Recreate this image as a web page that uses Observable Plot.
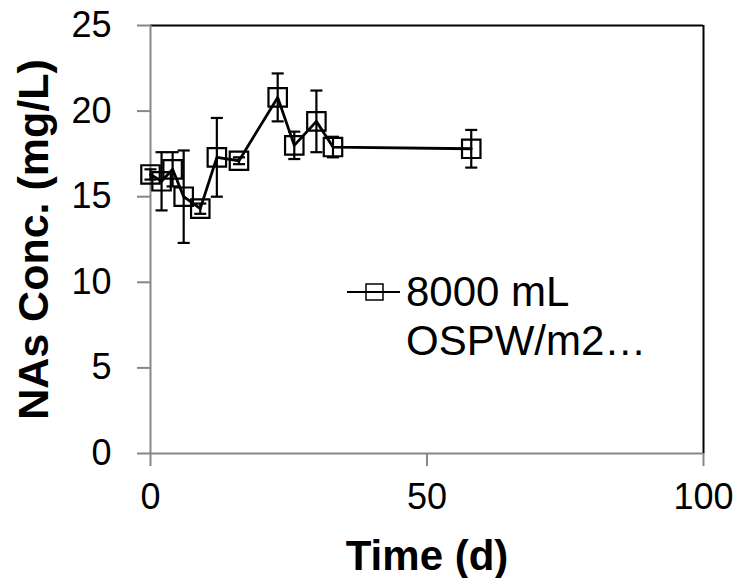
<!DOCTYPE html>
<html>
<head>
<meta charset="utf-8">
<script src="https://cdn.jsdelivr.net/npm/d3@7"></script>
<script src="https://cdn.jsdelivr.net/npm/@observablehq/plot@0.6"></script>
<style>
  html, body { margin: 0; padding: 0; background: #fff; }
  #chart { width: 735px; height: 578px; }
</style>
</head>
<body>
<div id="chart"></div>
<script>
// Data
const days   = [0, 2, 4, 6, 9, 12, 16, 23, 26, 30, 33, 58];
const conc   = [16.3, 15.9, 16.6, 15.0, 14.3, 17.3, 17.1, 20.8, 18.0, 19.4, 17.9, 17.8];
const errors = [0.3, 1.7, 1.0, 2.7, 0.3, 2.3, 0.2, 1.4, 0.8, 1.8, 0.6, 1.1];
const xTicks = [0, 50, 100];
const yTicks = [0, 5, 10, 15, 20, 25];
const seriesName = ["8000 mL", "OSPW/m2\u2026"];
const xTitle = "Time (d)";
const yTitle = "NAs Conc. (mg/L)";

const data = days.map((d, i) => ({x: d, y: conc[i], lo: conc[i] - errors[i], hi: conc[i] + errors[i]}));

const capSymbol = {
  draw(context, size) {
    const w = Math.sqrt(size) / 2;
    context.moveTo(-w, 0);
    context.lineTo(w, 0);
  }
};

const FONT = "'Liberation Sans', Arial, sans-serif";
const AXIS = "#878787";

const chart = Plot.plot({
  width: 735,
  height: 578,
  marginLeft: 150,
  marginRight: 32,
  marginTop: 25,
  marginBottom: 125,
  style: {fontFamily: FONT, fontSize: "36px", color: "black", background: "white"},
  x: {domain: [0, 100]},
  y: {domain: [0, 25]},
  marks: [
    Plot.ruleY([25], {stroke: "black", strokeWidth: 2}),
    Plot.ruleX([100], {stroke: "black", strokeWidth: 2}),
    Plot.ruleY([0], {stroke: AXIS, strokeWidth: 2}),
    Plot.ruleX([0], {stroke: AXIS, strokeWidth: 2}),
    Plot.axisY({ticks: yTicks, tickSize: 13, tickPadding: 26, stroke: AXIS, strokeWidth: 2, fontSize: 36, label: null, tickFormat: d => String(d)}),
    Plot.axisX({ticks: xTicks, tickSize: 13, tickPadding: 17, stroke: AXIS, strokeWidth: 2, fontSize: 36, label: null, tickFormat: d => String(d)}),
    Plot.ruleX(data, {x: "x", y1: "lo", y2: "hi", stroke: "black", strokeWidth: 2.2}),
    Plot.dot(data, {x: "x", y: "lo", symbol: capSymbol, r: 6.8, stroke: "black", strokeWidth: 2.2, fill: "none"}),
    Plot.dot(data, {x: "x", y: "hi", symbol: capSymbol, r: 6.8, stroke: "black", strokeWidth: 2.2, fill: "none"}),
    Plot.line(data, {x: "x", y: "y", stroke: "black", strokeWidth: 2.8}),
    Plot.dot(data, {x: "x", y: "y", symbol: "square", r: 10.4, stroke: "black", strokeWidth: 2.2, fill: "none"}),
    Plot.text([xTitle], {frameAnchor: "bottom", dy: 103, fontWeight: "bold", fontSize: 42, textAnchor: "middle", lineAnchor: "middle", fill: "black"}),
    Plot.text([yTitle], {frameAnchor: "left", dx: -116, rotate: -90, fontWeight: "bold", fontSize: 43, textAnchor: "middle", lineAnchor: "middle", fill: "black"})
  ]
});

// Legend (inside plot area)
const svg = d3.select(chart);
const lg = svg.append("g").attr("font-family", FONT).attr("font-size", 42).attr("text-anchor", "start");
lg.append("line").attr("x1", 347).attr("x2", 400).attr("y1", 292).attr("y2", 292)
  .attr("stroke", "black").attr("stroke-width", 2);
lg.append("rect").attr("x", 366).attr("y", 284).attr("width", 17).attr("height", 16)
  .attr("fill", "none").attr("stroke", "black").attr("stroke-width", 1.5);
lg.selectAll("text.leg").data(seriesName).join("text")
  .attr("class", "leg")
  .attr("x", 406)
  .attr("y", (d, i) => 306 + i * 49)
  .attr("fill", "black")
  .text(d => d);

document.getElementById("chart").append(chart);
</script>
</body>
</html>
